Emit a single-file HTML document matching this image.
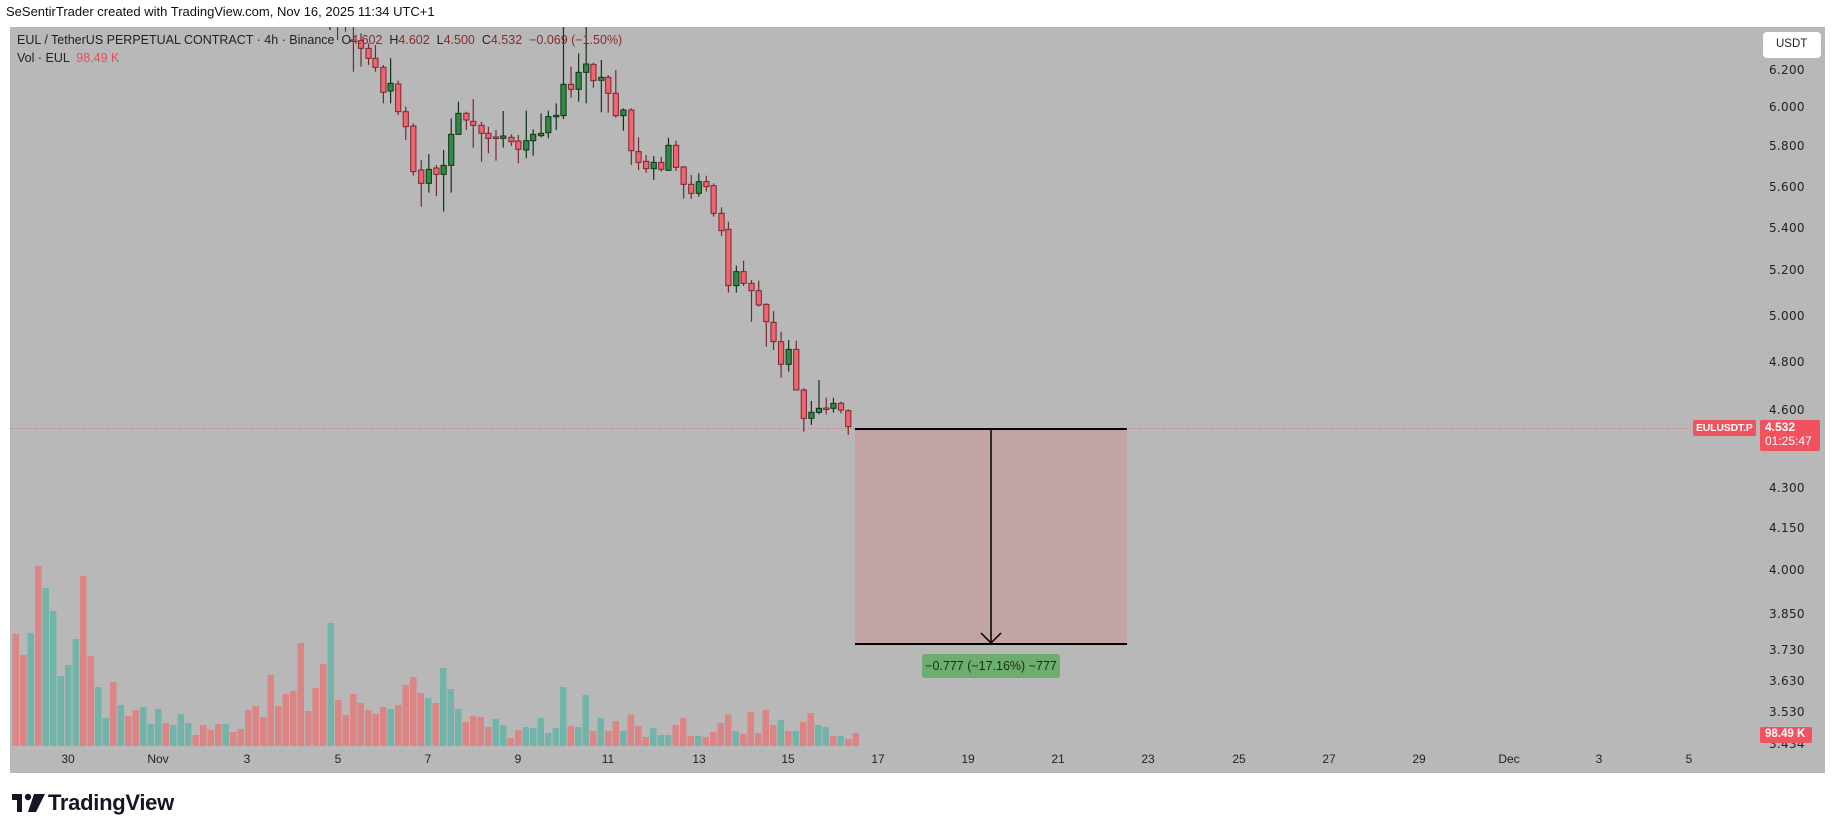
<!DOCTYPE html>
<html><head><meta charset="utf-8"><style>
body{margin:0;width:1835px;height:834px;background:#fff;position:relative;overflow:hidden;font-family:"Liberation Sans","DejaVu Sans",sans-serif}
.abs{position:absolute;white-space:nowrap}
#chart{position:absolute;left:10px;top:27px;width:1815px;height:746px;background:#b8b8b8}
.pl{position:absolute;left:1769px;font-size:12px;color:#222;font-family:"DejaVu Sans",sans-serif;letter-spacing:0.3px}
.tl{position:absolute;top:752px;font-size:12px;color:#222;transform:translateX(-50%)}
</style></head><body>
<div class="abs" style="left:6px;top:4px;font-size:13px;color:#111">SeSentirTrader created with TradingView.com, Nov 16, 2025 11:34 UTC+1</div>
<div id="chart"></div>
<div class="pl" style="top:63px">6.200</div>
<div class="pl" style="top:100px">6.000</div>
<div class="pl" style="top:139px">5.800</div>
<div class="pl" style="top:180px">5.600</div>
<div class="pl" style="top:221px">5.400</div>
<div class="pl" style="top:263px">5.200</div>
<div class="pl" style="top:309px">5.000</div>
<div class="pl" style="top:355px">4.800</div>
<div class="pl" style="top:403px">4.600</div>
<div class="pl" style="top:440px">4.450</div>
<div class="pl" style="top:481px">4.300</div>
<div class="pl" style="top:521px">4.150</div>
<div class="pl" style="top:563px">4.000</div>
<div class="pl" style="top:607px">3.850</div>
<div class="pl" style="top:643px">3.730</div>
<div class="pl" style="top:674px">3.630</div>
<div class="pl" style="top:705px">3.530</div>
<div class="pl" style="top:737px">3.434</div>
<svg id="s" width="1835" height="834" style="position:absolute;left:0;top:0">
<defs><clipPath id="c"><rect x="10" y="27" width="1750" height="720"/></clipPath></defs>
<g id="vol" clip-path="url(#c)"></g>
<line x1="10" y1="428.5" x2="1745" y2="428.5" stroke="#e06070" stroke-width="1" stroke-dasharray="1,2"/>
<rect x="855" y="429" width="272" height="215" fill="#c3a4a4"/>
<g id="cdl" clip-path="url(#c)"></g>
<line x1="855" y1="429" x2="1127" y2="429" stroke="#000" stroke-width="2"/>
<line x1="855" y1="644" x2="1127" y2="644" stroke="#000" stroke-width="2"/>
<line x1="991" y1="429" x2="991" y2="643" stroke="#000" stroke-width="1.5"/>
<polyline points="981,633 991,643 1001,633" fill="none" stroke="#000" stroke-width="1.5"/>
<rect x="922" y="654" width="138" height="24" rx="3" fill="#6dad6d"/>
<rect x="1693" y="420" width="63" height="16" rx="2" fill="#f0525e"/>
<rect x="1760" y="420" width="60" height="31" rx="2" fill="#f0525e"/>
<rect x="1760" y="727" width="52" height="16" rx="2" fill="#f0525e"/>
<rect x="1763" y="32" width="58" height="26" rx="4" fill="#fff"/>
</svg>
<div class="abs" style="left:922px;top:659px;font-size:12.5px;color:#1c2b1c;width:138px;text-align:center">−0.777 (−17.16%) −777</div>
<div class="abs" style="left:17px;top:33px;font-size:12.5px;color:#222">EUL / TetherUS PERPETUAL CONTRACT · 4h · Binance &nbsp;O<span style="color:#8a2a30">4.602</span> &nbsp;H<span style="color:#8a2a30">4.602</span> &nbsp;L<span style="color:#8a2a30">4.500</span> &nbsp;C<span style="color:#8a2a30">4.532</span> &nbsp;<span style="color:#8a2a30">−0.069 (−1.50%)</span></div>
<div class="abs" style="left:17px;top:51px;font-size:12.5px;color:#222">Vol · EUL &nbsp;<span style="color:#e0505a">98.49 K</span></div>
<div class="abs" style="left:1776px;top:38px;font-size:11.5px;color:#222">USDT</div>
<div class="abs" style="left:1696px;top:422px;font-size:10.5px;font-weight:bold;color:#fff;letter-spacing:-0.2px">EULUSDT.P</div>
<div class="abs" style="left:1765px;top:420px;font-size:12px;font-weight:bold;color:#fff;line-height:14px">4.532<br><span style="font-weight:normal">01:25:47</span></div>
<div class="abs" style="left:1765px;top:728px;font-size:11.5px;font-weight:bold;color:#fff">98.49 K</div>
<div class="tl" style="left:68px">30</div><div class="tl" style="left:158px">Nov</div><div class="tl" style="left:247px">3</div><div class="tl" style="left:338px">5</div><div class="tl" style="left:428px">7</div><div class="tl" style="left:518px">9</div><div class="tl" style="left:608px">11</div><div class="tl" style="left:699px">13</div><div class="tl" style="left:788px">15</div><div class="tl" style="left:878px">17</div><div class="tl" style="left:968px">19</div><div class="tl" style="left:1058px">21</div><div class="tl" style="left:1148px">23</div><div class="tl" style="left:1239px">25</div><div class="tl" style="left:1329px">27</div><div class="tl" style="left:1419px">29</div><div class="tl" style="left:1509px">Dec</div><div class="tl" style="left:1599px">3</div><div class="tl" style="left:1689px">5</div>
<div class="abs" style="left:12px;top:793px;width:32px;height:20px">
<svg width="34" height="20"><rect x="0" y="1" width="10" height="6" fill="#131722"/><rect x="5" y="1" width="5" height="18" fill="#131722"/><circle cx="16" cy="4" r="3.2" fill="#131722"/><polygon points="22,1 33,1 24,19 16,19" fill="#131722"/></svg></div>
<div class="abs" style="left:48px;top:790px;font-size:22px;font-weight:bold;color:#131722;letter-spacing:-0.3px">TradingView</div>
<script>
var NS="http://www.w3.org/2000/svg";
function el(p,t,a){var e=document.createElementNS(NS,t);for(var k in a)e.setAttribute(k,a[k]);p.appendChild(e);return e;}
var V="r252 r315 g249 r48 g114 g183 g378 g345 g267 r78 r318 g411 g504 r396 g465 r498 r480 g471 g522 g477 r519 g525 g492 g519 r555 r525 r540 r522 g522 r546 r537 r480 r468 r501 r375 r468 r432 r423 r279 r483 r414 r342 g219 r450 r495 r432 r459 r480 r492 r471 g477 r465 r405 r381 r429 g444 r459 g354 g417 g477 r516 r498 r501 r531 g507 g525 r564 r540 g531 g534 g504 g549 g534 g411 r528 g531 g435 r543 g504 r543 r513 g543 r494 r528 r561 g534 g555 g555 r525 r504 r558 g558 r561 r546 r519 r494 g543 r552 r486 r549 r480 r525 g510 r543 g543 r516 r489 g525 g531 r558 g558 r567 r549".split(" ");
var vg=document.getElementById("vol");
V.forEach(function(s,i){var x=12+i*7.5,y=550+(+s.slice(1))/3;el(vg,"rect",{x:x+0.5,y:y,width:6.5,height:746-y,fill:s[0]=="r"?"#db8585":"#72b3aa"});});
var C=[[68,'r',20,60,20,155],[90,'r',40,62,85,140],[112,'r',70,85,115,135],[132,'r',75,115,142,155],[155,'r',135,142,217,250],[176,'g',115,190,213,250],[198,'r',182,192,275,285],[220,'r',260,275,320,360],[242,'r',310,318,455,467],[265,'r',420,450,490,560],[287,'g',402,448,490,518],[309,'r',435,444,463,528],[330,'g',390,436,463,575],[352,'g',295,343,436,518],[373,'g',245,280,343,345],[396,'r',275,280,300,330],[416,'r',237,304,316,383],[440,'r',305,316,340,425],[460,'r',320,340,355,400],[482,'r',330,351,353,422],[503,'g',273,348,355,383],[527,'r',343,352,365,378],[547,'r',345,363,388,430],[570,'g',272,362,390,415],[590,'g',328,343,362,407],[613,'g',280,340,347,352],[634,'g',272,290,338,355],[657,'g',250,286,289,330],[678,'g',-100,193,287,297],[700,'r',140,193,208,233],[722,'g',100,157,208,245],[744,'g',-100,132,157,250],[765,'r',128,133,182,203],[788,'g',120,172,181,277],[808,'r',165,172,220,278],[830,'r',150,220,287,293],[852,'g',265,270,287,332],[875,'r',265,270,392,435],[896,'r',352,395,427,450],[918,'r',405,424,446,458],[940,'g',408,427,446,480],[962,'r',410,427,448,455],[983,'g',353,376,451,453],[1005,'r',362,376,442,453],[1027,'r',438,441,493,536],[1049,'r',465,493,520,536],[1071,'g',460,485,520,530],[1093,'r',467,485,500,515],[1114,'r',490,497,580,590],[1137,'r',562,580,632,648],[1157,'r',605,628,797,818],[1180,'g',737,755,797,818],[1201,'r',722,755,790,798],[1224,'r',780,790,812,905],[1245,'r',782,812,855,860],[1267,'r',850,853,905,980],[1288,'r',873,907,965,990],[1310,'r',935,965,1033,1073],[1332,'g',960,988,1033,1055],[1354,'r',962,988,1110,1110],[1376,'r',1105,1110,1195,1235],[1398,'g',1143,1177,1195,1215],[1420,'g',1080,1165,1177,1183],[1441,'r',1133,1164,1166,1183],[1462,'g',1133,1150,1165,1178],[1484,'r',1145,1150,1170,1180],[1505,'r',1168,1172,1220,1245]];
C.unshift([45,'r',-100,-60,10,35],[22,'r',-100,-40,-10,60],[0,'g',-100,-30,10,30]);
var cg=document.getElementById("cdl");
C.forEach(function(c){var x=330+c[0]/2.904,f=function(v){return 20+v/3;};
var red=c[1]=='r',bd=red?"#7a2630":"#0f3518",fl=red?"#f0656f":"#2f8a45";
el(cg,"line",{x1:x,y1:f(c[2]),x2:x,y2:f(c[5]),stroke:bd,"stroke-width":1.2});
var t=f(c[3]),b=f(c[4]);if(b-t<1.5)b=t+1.5;
el(cg,"rect",{x:x-2.6,y:t,width:5.2,height:b-t,fill:fl,stroke:bd,"stroke-width":1});});
</script>
</body></html>
